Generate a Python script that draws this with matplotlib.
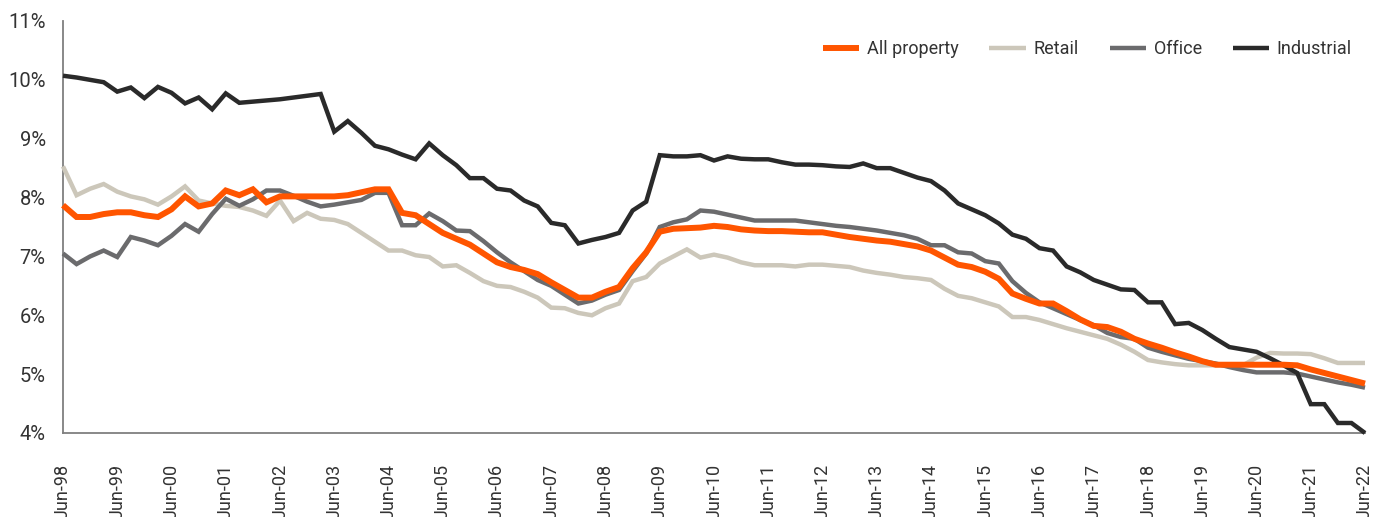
import matplotlib
matplotlib.use("Agg")
import matplotlib.pyplot as plt
import numpy as np

# Quarterly observations, Jun-98 .. Jun-22 (97 quarters)
tick_labels = ["Jun-98", "Jun-99", "Jun-00", "Jun-01", "Jun-02", "Jun-03", "Jun-04",
               "Jun-05", "Jun-06", "Jun-07", "Jun-08", "Jun-09", "Jun-10", "Jun-11",
               "Jun-12", "Jun-13", "Jun-14", "Jun-15", "Jun-16", "Jun-17", "Jun-18",
               "Jun-19", "Jun-20", "Jun-21", "Jun-22"]

all_property = [
    7.87, 7.67, 7.67, 7.72, 7.75, 7.75, 7.70, 7.67, 7.80, 8.02, 7.85, 7.90, 8.12, 8.04, 8.14, 7.92,
    8.02, 8.02, 8.02, 8.02, 8.02, 8.04, 8.09, 8.14, 8.14, 7.74, 7.70, 7.55, 7.40, 7.30, 7.20, 7.05,
    6.90, 6.82, 6.77, 6.70, 6.56, 6.43, 6.30, 6.30, 6.40, 6.48, 6.80, 7.07, 7.42, 7.47, 7.48, 7.49,
    7.52, 7.50, 7.46, 7.44, 7.43, 7.43, 7.42, 7.41, 7.41, 7.37, 7.33, 7.30, 7.27, 7.25, 7.21, 7.17,
    7.10, 6.98, 6.86, 6.82, 6.74, 6.62, 6.37, 6.28, 6.20, 6.20, 6.07, 5.93, 5.82, 5.80, 5.72, 5.60,
    5.52, 5.45, 5.37, 5.30, 5.22, 5.16, 5.16, 5.16, 5.16, 5.16, 5.16, 5.15, 5.08, 5.02, 4.96, 4.90,
    4.84]

retail = [
    8.53, 8.04, 8.15, 8.23, 8.10, 8.02, 7.97, 7.88, 8.02, 8.19, 7.95, 7.90, 7.86, 7.84, 7.78, 7.69,
    7.95, 7.60, 7.74, 7.64, 7.62, 7.55, 7.40, 7.25, 7.10, 7.10, 7.02, 6.99, 6.83, 6.85, 6.72, 6.58,
    6.50, 6.48, 6.40, 6.30, 6.13, 6.12, 6.04, 6.00, 6.12, 6.20, 6.58, 6.65, 6.88, 7.00, 7.12, 6.98,
    7.03, 6.98, 6.90, 6.85, 6.85, 6.85, 6.83, 6.86, 6.86, 6.84, 6.82, 6.76, 6.72, 6.69, 6.65, 6.63,
    6.60, 6.45, 6.33, 6.29, 6.22, 6.15, 5.97, 5.97, 5.92, 5.85, 5.78, 5.72, 5.66, 5.60, 5.50, 5.38,
    5.24, 5.20, 5.17, 5.15, 5.15, 5.15, 5.15, 5.15, 5.28, 5.36, 5.35, 5.35, 5.34, 5.27, 5.19, 5.19,
    5.19]

office = [
    7.05, 6.87, 7.00, 7.10, 6.99, 7.33, 7.27, 7.19, 7.35, 7.55, 7.42, 7.72, 7.98, 7.86, 7.97, 8.12,
    8.12, 8.03, 7.93, 7.85, 7.88, 7.92, 7.96, 8.08, 8.08, 7.53, 7.53, 7.73, 7.60, 7.44, 7.43, 7.26,
    7.07, 6.90, 6.75, 6.60, 6.50, 6.35, 6.20, 6.25, 6.35, 6.43, 6.75, 7.05, 7.50, 7.58, 7.63, 7.78,
    7.76, 7.71, 7.66, 7.61, 7.61, 7.61, 7.61, 7.58, 7.55, 7.52, 7.50, 7.47, 7.44, 7.40, 7.36, 7.30,
    7.19, 7.19, 7.07, 7.05, 6.92, 6.88, 6.58, 6.38, 6.22, 6.12, 6.02, 5.92, 5.83, 5.70, 5.63, 5.60,
    5.45, 5.38, 5.32, 5.26, 5.22, 5.18, 5.12, 5.07, 5.03, 5.03, 5.03, 5.01, 4.96, 4.91, 4.86, 4.82,
    4.77]

industrial = [
    10.07, 10.04, 10.00, 9.96, 9.80, 9.87, 9.69, 9.88, 9.78, 9.60, 9.70, 9.50, 9.77, 9.61, 9.63, 9.65,
    9.67, 9.70, 9.73, 9.76, 9.12, 9.30, 9.10, 8.88, 8.82, 8.73, 8.65, 8.92, 8.72, 8.55, 8.33, 8.33,
    8.15, 8.12, 7.95, 7.85, 7.57, 7.53, 7.22, 7.28, 7.33, 7.40, 7.78, 7.93, 8.72, 8.70, 8.70, 8.72,
    8.63, 8.70, 8.66, 8.65, 8.65, 8.60, 8.56, 8.56, 8.55, 8.53, 8.52, 8.58, 8.50, 8.50, 8.42, 8.34,
    8.28, 8.12, 7.90, 7.80, 7.70, 7.56, 7.37, 7.30, 7.14, 7.10, 6.83, 6.73, 6.60, 6.52, 6.44, 6.43,
    6.22, 6.22, 5.85, 5.87, 5.75, 5.60, 5.46, 5.42, 5.38, 5.27, 5.15, 5.02, 4.49, 4.49, 4.17, 4.17,
    4.00]

series_names = ["All property", "Retail", "Office", "Industrial"]
colors = ["#FF5500", "#CCC7BA", "#6B6B6D", "#2A2A2A"]
widths = [4.3, 3.2, 3.2, 3.2]

plt.rcParams["font.family"] = ["Roboto", "DejaVu Sans"]

fig = plt.figure(figsize=(13.84, 5.17), dpi=100)
ax = fig.add_axes([63 / 1384, 1 - 433 / 517, (1365 - 63) / 1384, (433 - 21) / 517])

x = np.arange(len(all_property))
series = [all_property, retail, office, industrial]
order = [1, 2, 3, 0]
for i in order:
    ax.plot(x, series[i], color=colors[i], lw=widths[i], label=series_names[i],
            solid_joinstyle="miter", solid_capstyle="butt", clip_on=False, zorder=3 + (i == 0))

ax.set_xlim(0, len(all_property) - 1)
ax.set_ylim(4, 11)
ax.set_yticks(np.arange(4, 12, 1))
ax.set_yticklabels([f"{v}%" for v in range(4, 12)])
ax.set_xticks(np.arange(0, len(all_property), 4))
ax.set_xticklabels(tick_labels, rotation=90, va="top", ha="center")

for s in ["top", "right"]:
    ax.spines[s].set_visible(False)
for s in ["left", "bottom"]:
    ax.spines[s].set_color("#7F7F7F")
    ax.spines[s].set_linewidth(1.3)

ax.tick_params(axis="y", length=0, pad=12.5, labelsize=14.5, labelcolor="#333333")
ax.tick_params(axis="x", length=0, pad=22, labelsize=13, labelcolor="#333333")

handles, labels = ax.get_legend_handles_labels()
hmap = dict(zip(labels, handles))
leg = fig.legend([hmap[n] for n in series_names], series_names, ncol=4, frameon=False,
                 loc="center right", bbox_to_anchor=(1352 / 1384, 1 - 49 / 517),
                 fontsize=13, handlelength=2.0, handletextpad=0.45, columnspacing=1.7,
                 borderpad=0, borderaxespad=0)
for t in leg.get_texts():
    t.set_color("#333333")

fig.savefig("out.png", dpi=100)
